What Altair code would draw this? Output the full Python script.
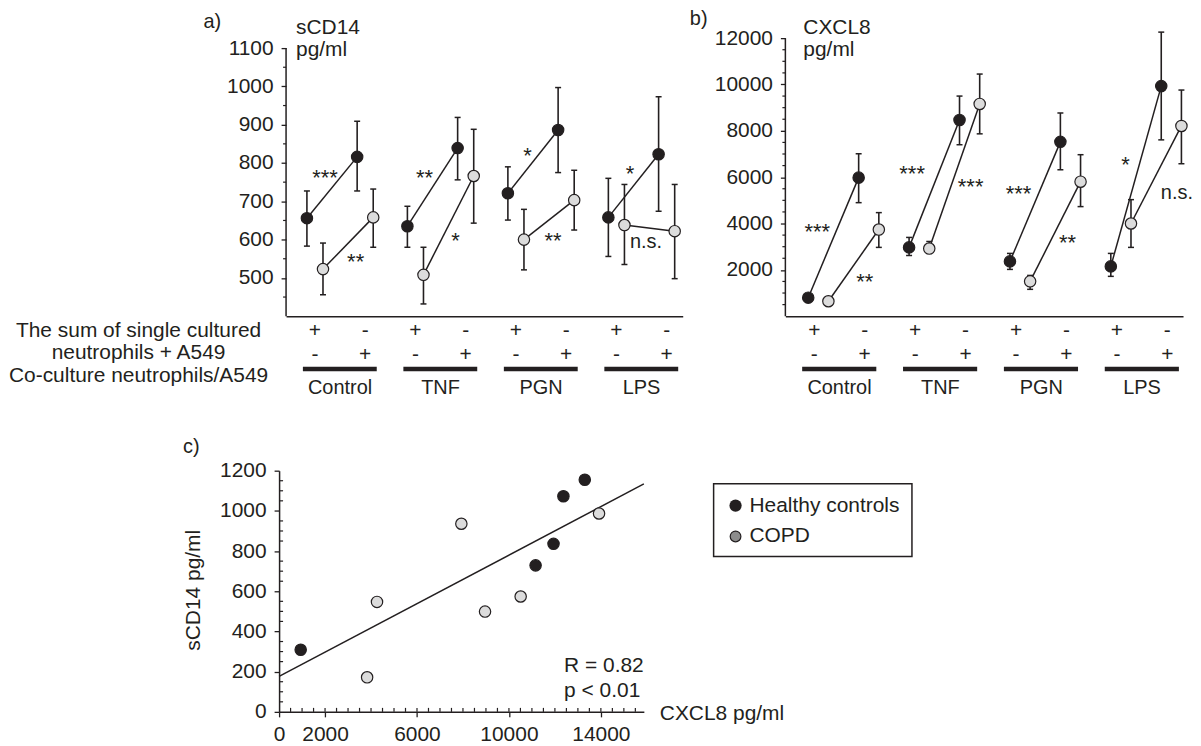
import altair as alt
import pandas as pd

FONT = "Liberation Sans"
INK = "#231f20"
LIGHT = "#dcdcdc"
MID = "#8c8c8c"

# ---------------- data ----------------
groups = ["Control", "TNF", "PGN", "LPS"]
series = ["Healthy controls", "COPD"]
sum_row = ["+", "-"]
co_row = ["-", "+"]
row_labels = ["The sum of single cultured", "neutrophils + A549", "Co-culture neutrophils/A549"]

# panel a - sCD14 pg/ml ; order: Control sum, Control co-culture, TNF sum, TNF co, PGN sum, PGN co, LPS sum, LPS co
a_healthy = [656, 816, 635, 839, 721, 886, 658, 823]
a_healthy_lo = [583, 727, 580, 756, 651, 775, 556, 674]
a_healthy_hi = [727, 909, 687, 919, 790, 997, 760, 973]
a_copd = [523, 658, 508, 766, 600, 703, 638, 622]
a_copd_lo = [456, 580, 432, 643, 521, 625, 535, 498]
a_copd_hi = [591, 732, 580, 888, 679, 781, 744, 744]
a_sig = ["***", "**", "**", "*", "*", "**", "*", "n.s."]
a_sig_pos = [0.2, 0.81, 2.18, 2.80, 4.23, 4.74, 6.27, 6.59]
a_sig_val = [772, 551, 772, 606, 829, 606, 782, 593]
a_ticks = [500, 600, 700, 800, 900, 1000, 1100]

# panel b - CXCL8 pg/ml
b_healthy = [800, 5980, 2970, 8470, 2365, 7525, 2150, 9930]
b_healthy_lo = [700, 4900, 2620, 7400, 2020, 6320, 1720, 7610]
b_healthy_hi = [900, 7010, 3400, 9500, 2710, 8770, 2710, 12260]
b_copd = [645, 3740, 2920, 9160, 1505, 5805, 4000, 8210]
b_copd_lo = [550, 2970, 2800, 7870, 1160, 4730, 2970, 6580]
b_copd_hi = [740, 4470, 3225, 10450, 1760, 6970, 5030, 9760]
b_sig = ["***", "**", "***", "***", "***", "**", "*", "n.s."]
b_sig_pos = [0.06, 1.0, 1.94, 3.10, 4.05, 5.02, 6.17, 7.19]
b_sig_val = [3784, 1634, 6321, 5762, 5461, 3311, 6708, 5332]
b_ticks = [2000, 4000, 6000, 8000, 10000, 12000]

# panel c - correlation
c_healthy_x = [940, 11160, 11940, 12370, 13300]
c_healthy_y = [309, 729, 836, 1073, 1155]
c_copd_x = [3830, 4260, 7930, 8960, 10510, 13920]
c_copd_y = [172, 547, 936, 499, 574, 987]
fit_x = [0, 15870]
fit_y = [177, 1134]
c_xticks = [0, 2000, 6000, 10000, 14000]
c_yticks = [0, 200, 400, 600, 800, 1000, 1200]
stats = ["R = 0.82", "p < 0.01"]

ONE = pd.DataFrame({"o": [0]})


def T(**kw):
    base = dict(font=FONT, color=INK, fontSize=21, align="center", baseline="middle")
    base.update(kw)
    return base


def anchor(x1, y1, x2, y2):
    return alt.Chart(ONE).mark_rule(opacity=0, strokeWidth=0).encode(
        x=alt.value(x1), y=alt.value(y1), x2=alt.value(x2), y2=alt.value(y2))


def text_at(s, x, y, **kw):
    return alt.Chart(ONE).mark_text(**T(**kw)).encode(
        x=alt.value(x), y=alt.value(y), text=alt.value(s))


def bar_panel(h, hl, hh, c, cl, ch, off, sig, sig_pos, sig_val, xdom, ydom,
              yline, yticks, yminor, letter, letter_xy, name, name_x, extra):
    rows = []
    for i in range(8):
        g = groups[i // 2]
        for s, v, lo, hi, o in ((series[0], h[i], hl[i], hh[i], off[0]),
                                (series[1], c[i], cl[i], ch[i], off[1])):
            rows.append(dict(series=s, key=g + s, slot=i, xp=i + o, v=v, lo=lo, hi=hi))
    df = pd.DataFrame(rows)

    xs = alt.Scale(domain=xdom, nice=False, zero=False)
    ys = alt.Scale(domain=ydom, nice=False, zero=False)
    xax = alt.Axis(labels=False, ticks=False, grid=False, title=None,
                   domainColor=INK, domainWidth=1.5)
    yax = alt.Axis(values=yticks, format="d", domain=False, grid=False, title=None,
                   tickSize=5, tickWidth=1.3, tickColor=INK, labelPadding=8,
                   labelFont=FONT, labelFontSize=21, labelColor=INK,
                   labelFlush=False, labelOverlap=False)

    def X(f):
        return alt.X(f"{f}:Q", scale=xs, axis=xax)

    def Y(f):
        return alt.Y(f"{f}:Q", scale=ys, axis=yax)

    layers = []
    layers.append(alt.Chart(pd.DataFrame({"y0": [yline[0]], "y1": [yline[1]]}))
                  .mark_rule(color=INK, strokeWidth=1.5)
                  .encode(x=alt.value(0), y=Y("y0"), y2="y1"))
    layers.append(alt.Chart(pd.DataFrame({"t": yminor}))
                  .mark_rule(color=INK, strokeWidth=1.2)
                  .encode(y=Y("t"), x=alt.value(-3), x2=alt.value(0)))
    layers.append(alt.Chart(df).mark_rule(color=INK, strokeWidth=1.6)
                  .encode(x=X("xp"), y=Y("lo"), y2="hi"))
    for f in ("lo", "hi"):
        layers.append(alt.Chart(df).mark_tick(orient="horizontal", size=6, thickness=1.5,
                                              color=INK, opacity=1)
                      .encode(x=X("xp"), y=Y(f)))
    layers.append(alt.Chart(df).mark_line(color=INK, strokeWidth=1.5)
                  .encode(x=X("xp"), y=Y("v"), detail="key:N", order="slot:Q"))
    layers.append(alt.Chart(df).mark_circle(size=130, opacity=1, stroke=INK, strokeWidth=1.2)
                  .encode(x=X("xp"), y=Y("v"),
                          fill=alt.Fill("series:N", scale=alt.Scale(domain=series, range=[INK, LIGHT]),
                                        legend=None)))
    sdf = pd.DataFrame({"t": sig, "x": sig_pos, "y": sig_val})
    layers.append(alt.Chart(sdf[sdf.t != "n.s."]).mark_text(**T(fontSize=22, dy=4))
                  .encode(x=X("x"), y=Y("y"), text="t:N"))
    layers.append(alt.Chart(sdf[sdf.t == "n.s."]).mark_text(**T(fontSize=20))
                  .encode(x=X("x"), y=Y("y"), text="t:N"))

    # condition rows under the axis
    slots = pd.DataFrame({"slot": list(range(8)), "r1": sum_row * 4, "r2": co_row * 4})
    layers.append(alt.Chart(slots).mark_text(**T()).encode(x=X("slot"), y=alt.value(294), text="r1:N"))
    layers.append(alt.Chart(slots).mark_text(**T()).encode(x=X("slot"), y=alt.value(318), text="r2:N"))
    gdf = pd.DataFrame({"g": groups,
                        "mid": [2 * i + 0.5 for i in range(4)],
                        "x0": [2 * i - 0.24 for i in range(4)],
                        "x1": [2 * i + 1.23 for i in range(4)]})
    layers.append(alt.Chart(gdf).mark_rule(color=INK, strokeWidth=4.5)
                  .encode(x=X("x0"), x2="x1", y=alt.value(332)))
    layers.append(alt.Chart(gdf).mark_text(**T(fontSize=20)).encode(x=X("mid"), y=alt.value(351), text="g:N"))

    # headers
    layers.append(text_at(letter, letter_xy[0], letter_xy[1], fontSize=20))
    layers.append(text_at(name[0], name_x, -4, align="left", baseline="alphabetic"))
    layers.append(text_at(name[1], name_x, 18, align="left", baseline="alphabetic"))
    layers.extend(extra)
    return alt.layer(*layers)


a_extra = [text_at(row_labels[0], -148, 294),
           text_at(row_labels[1], -148, 316),
           text_at(row_labels[2], -148, 339),
           anchor(-279, -29, 400, 380)]
panel_a = bar_panel(a_healthy, a_healthy_lo, a_healthy_hi, a_copd, a_copd_lo, a_copd_hi,
                    (-0.16, 0.16), a_sig, a_sig_pos, a_sig_val,
                    [-0.575, 7.32], [400, 1126], [400, 1100], a_ticks,
                    list(range(450, 1100, 100)), "a)", (-74, -16),
                    ("sCD14", "pg/ml"), 10, a_extra).properties(width=398, height=279)

b_extra = [anchor(-100, 0, -100, 0)]
panel_b = bar_panel(b_healthy, b_healthy_lo, b_healthy_hi, b_copd, b_copd_lo, b_copd_hi,
                    (-0.12, 0.28), b_sig, b_sig_pos, b_sig_val,
                    [-0.573, 7.312], [0, 12000], [0, 12000], b_ticks,
                    [v for v in range(500, 12000, 500) if v % 2000], "b)", (-87, -19),
                    ("CXCL8", "pg/ml"), 18, b_extra).properties(width=399, height=279)

# ---------------- panel c ----------------
cdf = pd.DataFrame({"x": c_healthy_x + c_copd_x, "y": c_healthy_y + c_copd_y,
                    "series": [series[0]] * len(c_healthy_x) + [series[1]] * len(c_copd_x)})
cxs = alt.Scale(domain=[0, 15870], range=[-7, 359], nice=False, zero=False)
cys = alt.Scale(domain=[0, 1200], nice=False, zero=False)
cxax = alt.Axis(values=c_xticks, format="d", grid=False, title=None, tickSize=5, tickWidth=1.3,
                tickColor=INK, labelPadding=7, labelFont=FONT, labelFontSize=21, labelColor=INK,
                domainColor=INK, domainWidth=1.5, labelFlush=False, labelOverlap=False)
cyax = alt.Axis(values=c_yticks, format="d", grid=False, title=None, tickSize=5, tickWidth=1.3,
                tickColor=INK, labelPadding=8, labelFont=FONT, labelFontSize=21, labelColor=INK,
                domainColor=INK, domainWidth=1.5, offset=7, labelFlush=False, labelOverlap=False)


def CX(f):
    return alt.X(f"{f}:Q", scale=cxs, axis=cxax)


def CY(f):
    return alt.Y(f"{f}:Q", scale=cys, axis=cyax)


c_layers = [
    alt.Chart(pd.DataFrame({"t": [v for v in range(50, 1200, 50) if v % 200]}))
    .mark_rule(color=INK, strokeWidth=1.2).encode(y=CY("t"), x=alt.value(-7), x2=alt.value(-3)),
    alt.Chart(pd.DataFrame({"t": [v for v in range(500, 15870, 500)]}))
    .mark_rule(color=INK, strokeWidth=1.2).encode(x=CX("t"), y=alt.value(242), y2=alt.value(238)),
    alt.Chart(pd.DataFrame({"fx": fit_x, "fy": fit_y}))
    .mark_line(color=INK, strokeWidth=1.5).encode(x=CX("fx"), y=CY("fy")),
    alt.Chart(cdf).mark_circle(size=130, opacity=1, stroke=INK, strokeWidth=1.2)
    .encode(x=CX("x"), y=CY("y"),
            fill=alt.Fill("series:N", scale=alt.Scale(domain=series, range=[INK, LIGHT]), legend=None)),
    text_at(stats[0], 279, 196, align="left"),
    text_at(stats[1], 279, 221, align="left"),
    text_at("CXCL8 pg/ml", 375, 244, align="left"),
    text_at("sCD14 pg/ml", -92, 120, angle=270),
    text_at("c)", -95, -24, fontSize=20),
    # legend box
    alt.Chart(ONE).mark_rect(fillOpacity=0, stroke=INK, strokeWidth=1.5)
    .encode(x=alt.value(429), x2=alt.value(628), y=alt.value(13), y2=alt.value(86)),
    alt.Chart(ONE).mark_circle(size=150, opacity=1, color=INK)
    .encode(x=alt.value(451), y=alt.value(35)),
    alt.Chart(ONE).mark_circle(size=115, opacity=1, fill=MID, stroke=INK, strokeWidth=1.2)
    .encode(x=alt.value(451), y=alt.value(66)),
    text_at(series[0], 465, 35, align="left"),
    text_at(series[1], 465, 66, align="left"),
    anchor(0, -40, 0, -40),
]
panel_c = alt.layer(*c_layers).properties(width=359, height=242)

top = alt.hconcat(panel_a, panel_b, spacing=1)
chart = (alt.vconcat(top, panel_c, spacing=14)
         .properties(padding=0)
         .configure(font=FONT)
         .configure_view(stroke=None))

chart.save("out.html", embed_options={"renderer": "svg", "actions": False})
